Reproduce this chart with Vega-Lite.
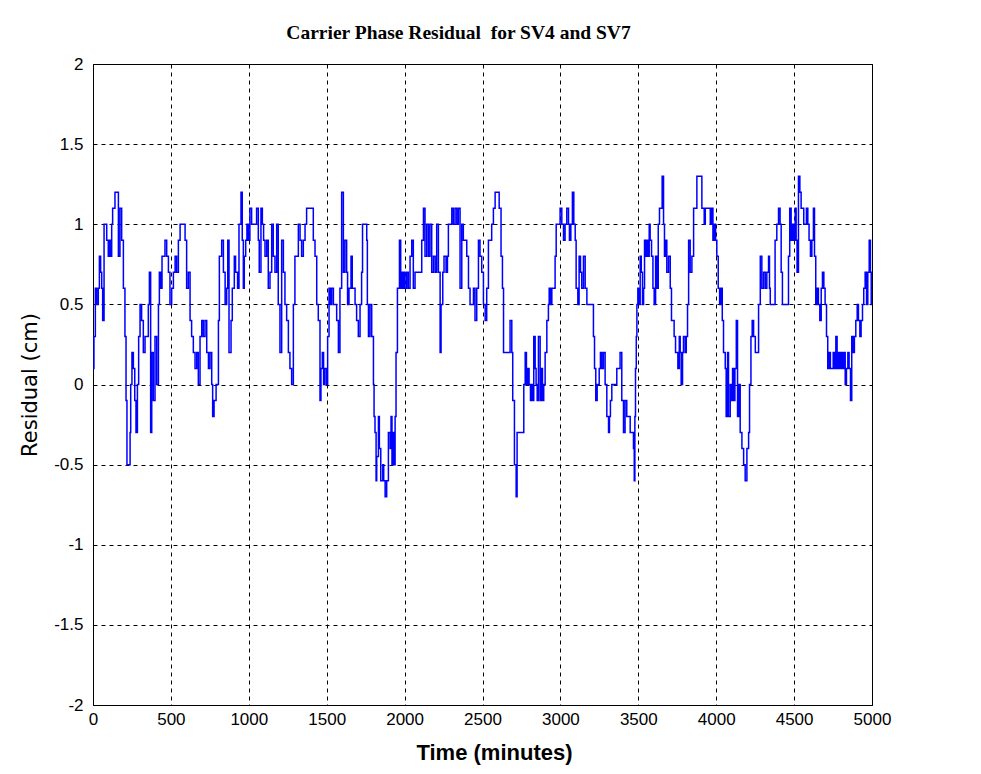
{
  "$schema": "https://vega.github.io/schema/vega-lite/v6.json",
  "width": 779,
  "height": 641,
  "autosize": {"type": "none"},
  "padding": {"left": 93, "top": 64, "right": 109, "bottom": 69},
  "background": "white",
  "title": {
    "text": "Carrier Phase Residual\u00a0 for SV4 and SV7",
    "font": "Liberation Serif",
    "fontSize": 19.5,
    "fontWeight": "bold",
    "color": "black",
    "anchor": "middle",
    "dx": -24,
    "offset": 12
  },
  "config": {
    "view": {"stroke": "black", "strokeWidth": 1},
    "axis": {
      "grid": true,
      "gridColor": "black",
      "gridDash": [4, 4],
      "gridOpacity": 1,
      "gridWidth": 1,
      "domain": false,
      "ticks": false,
      "labelFlush": false,
      "labelFont": "Liberation Sans",
      "labelFontSize": 17,
      "labelColor": "black",
      "titleFont": "Liberation Sans",
      "titleColor": "black"
    }
  },
  "data": {"values": [
    {"t":0,"r":0.1},{"t":6,"r":0.3},{"t":15,"r":0.6},{"t":24,"r":0.5},{"t":34,"r":0.6},{"t":41,"r":0.8},{"t":49,"r":0.7},{"t":56,"r":0.6},{"t":62,"r":0.4},{"t":71,"r":1.0},{"t":88,"r":0.9},{"t":98,"r":0.8},{"t":105,"r":0.9},{"t":113,"r":0.8},{"t":120,"r":1.0},{"t":126,"r":1.1},{"t":141,"r":1.2},{"t":163,"r":0.8},{"t":173,"r":1.1},{"t":184,"r":0.9},{"t":195,"r":0.6},{"t":205,"r":0.3},{"t":212,"r":-0.1},{"t":218,"r":-0.5},{"t":238,"r":-0.3},{"t":242,"r":0.0},{"t":250,"r":0.2},{"t":259,"r":0.1},{"t":268,"r":-0.1},{"t":276,"r":-0.3},{"t":285,"r":0.0},{"t":293,"r":0.3},{"t":302,"r":0.5},{"t":312,"r":0.4},{"t":323,"r":0.2},{"t":334,"r":0.3},{"t":355,"r":0.5},{"t":362,"r":0.7},{"t":370,"r":-0.3},{"t":377,"r":0.2},{"t":387,"r":-0.1},{"t":398,"r":0.3},{"t":409,"r":0.0},{"t":420,"r":0.5},{"t":426,"r":0.7},{"t":434,"r":0.6},{"t":443,"r":0.8},{"t":462,"r":0.9},{"t":473,"r":0.8},{"t":484,"r":0.7},{"t":494,"r":0.5},{"t":505,"r":0.6},{"t":516,"r":0.7},{"t":527,"r":0.8},{"t":537,"r":0.7},{"t":548,"r":0.9},{"t":559,"r":1.0},{"t":591,"r":0.9},{"t":601,"r":0.6},{"t":612,"r":0.7},{"t":623,"r":0.4},{"t":633,"r":0.3},{"t":644,"r":0.2},{"t":655,"r":0.1},{"t":666,"r":0.2},{"t":676,"r":0.0},{"t":687,"r":0.3},{"t":698,"r":0.4},{"t":708,"r":0.3},{"t":719,"r":0.4},{"t":730,"r":0.2},{"t":741,"r":0.1},{"t":751,"r":0.2},{"t":762,"r":0.0},{"t":768,"r":-0.2},{"t":777,"r":-0.1},{"t":790,"r":0.0},{"t":805,"r":0.4},{"t":811,"r":0.8},{"t":826,"r":0.9},{"t":837,"r":0.7},{"t":848,"r":0.5},{"t":858,"r":0.6},{"t":865,"r":0.9},
    {"t":873,"r":0.2},{"t":886,"r":0.4},{"t":894,"r":0.6},{"t":907,"r":0.8},{"t":915,"r":0.7},{"t":928,"r":0.6},{"t":937,"r":1.0},{"t":950,"r":1.2},{"t":958,"r":0.9},{"t":965,"r":0.6},{"t":971,"r":0.8},{"t":980,"r":0.9},{"t":988,"r":1.0},{"t":997,"r":0.9},{"t":1007,"r":1.1},{"t":1018,"r":1.0},{"t":1050,"r":1.1},{"t":1061,"r":0.9},{"t":1067,"r":0.7},{"t":1078,"r":1.1},{"t":1087,"r":1.0},{"t":1095,"r":0.9},{"t":1104,"r":0.8},{"t":1115,"r":0.9},{"t":1125,"r":0.6},{"t":1136,"r":0.7},{"t":1147,"r":1.0},{"t":1157,"r":0.8},{"t":1168,"r":0.7},{"t":1179,"r":1.0},{"t":1189,"r":0.5},{"t":1200,"r":0.2},{"t":1211,"r":0.9},{"t":1222,"r":0.7},{"t":1232,"r":0.5},{"t":1243,"r":0.4},{"t":1254,"r":0.2},{"t":1264,"r":0.1},{"t":1275,"r":0.0},{"t":1286,"r":0.5},{"t":1296,"r":0.8},{"t":1318,"r":1.0},{"t":1329,"r":0.9},{"t":1339,"r":0.8},{"t":1350,"r":0.9},{"t":1361,"r":1.0},{"t":1371,"r":1.1},{"t":1414,"r":0.9},{"t":1425,"r":0.8},{"t":1436,"r":0.5},{"t":1446,"r":0.4},{"t":1457,"r":-0.1},{"t":1463,"r":0.1},{"t":1472,"r":0.2},{"t":1480,"r":0.0},{"t":1489,"r":0.1},{"t":1500,"r":0.0},{"t":1506,"r":0.3},{"t":1515,"r":0.6},{"t":1523,"r":0.5},{"t":1532,"r":0.6},{"t":1543,"r":0.5},{"t":1564,"r":0.4},{"t":1575,"r":0.2},{"t":1585,"r":0.6},{"t":1596,"r":1.2},{"t":1607,"r":0.7},{"t":1617,"r":0.9},{"t":1628,"r":0.7},{"t":1634,"r":0.5},{"t":1643,"r":0.6},{"t":1656,"r":0.8},{"t":1664,"r":0.6},{"t":1682,"r":0.5},{"t":1692,"r":0.4},{"t":1703,"r":0.3},{"t":1714,"r":0.5},{"t":1724,"r":0.7},{"t":1730,"r":1.0},
    {"t":1757,"r":0.9},{"t":1761,"r":0.5},{"t":1768,"r":0.3},{"t":1778,"r":0.5},{"t":1789,"r":0.3},{"t":1800,"r":0.0},{"t":1804,"r":-0.2},{"t":1810,"r":-0.3},{"t":1817,"r":-0.6},{"t":1821,"r":-0.45},{"t":1832,"r":-0.2},{"t":1838,"r":-0.4},{"t":1847,"r":-0.6},{"t":1860,"r":-0.5},{"t":1866,"r":-0.6},{"t":1875,"r":-0.7},{"t":1885,"r":-0.6},{"t":1896,"r":-0.3},{"t":1907,"r":-0.4},{"t":1913,"r":-0.2},{"t":1919,"r":-0.5},{"t":1928,"r":-0.3},{"t":1932,"r":-0.5},{"t":1939,"r":-0.2},{"t":1945,"r":0.2},{"t":1954,"r":0.6},{"t":1967,"r":0.9},{"t":1975,"r":0.6},{"t":1982,"r":0.7},{"t":1988,"r":0.6},{"t":1996,"r":0.7},{"t":2003,"r":0.6},{"t":2014,"r":0.7},{"t":2024,"r":0.6},{"t":2035,"r":0.8},{"t":2046,"r":0.9},{"t":2056,"r":0.6},{"t":2067,"r":0.7},{"t":2110,"r":0.9},{"t":2121,"r":1.1},{"t":2131,"r":0.8},{"t":2142,"r":1.0},{"t":2153,"r":0.8},{"t":2163,"r":1.0},{"t":2174,"r":0.7},{"t":2185,"r":0.8},{"t":2196,"r":0.7},{"t":2206,"r":1.0},{"t":2217,"r":0.7},{"t":2228,"r":0.2},{"t":2234,"r":0.5},{"t":2245,"r":0.7},{"t":2253,"r":0.8},{"t":2266,"r":0.7},{"t":2275,"r":0.8},{"t":2281,"r":1.0},{"t":2303,"r":1.1},{"t":2313,"r":1.0},{"t":2324,"r":1.1},{"t":2335,"r":1.0},{"t":2345,"r":1.1},{"t":2356,"r":0.6},{"t":2367,"r":1.0},{"t":2377,"r":0.9},{"t":2399,"r":0.8},{"t":2410,"r":0.6},{"t":2420,"r":0.5},{"t":2442,"r":0.6},{"t":2452,"r":0.4},{"t":2463,"r":0.6},{"t":2474,"r":0.9},{"t":2484,"r":0.8},{"t":2495,"r":0.7},{"t":2506,"r":0.5},{"t":2517,"r":0.4},{"t":2527,"r":0.6},{"t":2538,"r":0.9},{"t":2559,"r":1.0},{"t":2570,"r":1.1},{"t":2581,"r":1.2},
    {"t":2607,"r":1.1},{"t":2619,"r":0.8},{"t":2628,"r":0.6},{"t":2635,"r":0.2},{"t":2677,"r":0.4},{"t":2688,"r":0.2},{"t":2694,"r":-0.1},{"t":2705,"r":-0.5},{"t":2716,"r":-0.7},{"t":2722,"r":-0.3},{"t":2765,"r":0.0},{"t":2774,"r":0.2},{"t":2782,"r":0.0},{"t":2791,"r":0.1},{"t":2799,"r":0.0},{"t":2808,"r":-0.1},{"t":2816,"r":0.0},{"t":2821,"r":-0.1},{"t":2829,"r":0.3},{"t":2838,"r":0.1},{"t":2844,"r":0.0},{"t":2851,"r":-0.1},{"t":2859,"r":0.3},{"t":2870,"r":-0.1},{"t":2876,"r":0.1},{"t":2885,"r":-0.1},{"t":2893,"r":0.0},{"t":2902,"r":0.2},{"t":2913,"r":0.4},{"t":2923,"r":0.5},{"t":2928,"r":0.6},{"t":2936,"r":0.5},{"t":2945,"r":0.6},{"t":2966,"r":0.8},{"t":2973,"r":1.0},{"t":2998,"r":1.1},{"t":3009,"r":1.0},{"t":3020,"r":0.9},{"t":3030,"r":1.0},{"t":3041,"r":1.1},{"t":3052,"r":1.0},{"t":3058,"r":0.9},{"t":3067,"r":1.0},{"t":3077,"r":1.2},{"t":3086,"r":1.0},{"t":3095,"r":0.9},{"t":3101,"r":0.6},{"t":3112,"r":0.5},{"t":3120,"r":0.8},{"t":3129,"r":0.7},{"t":3137,"r":0.6},{"t":3148,"r":0.8},{"t":3159,"r":0.6},{"t":3170,"r":0.5},{"t":3212,"r":0.3},{"t":3219,"r":0.1},{"t":3227,"r":-0.1},{"t":3236,"r":0.0},{"t":3249,"r":0.1},{"t":3257,"r":0.2},{"t":3266,"r":0.1},{"t":3276,"r":0.2},{"t":3287,"r":0.0},{"t":3298,"r":-0.2},{"t":3309,"r":-0.3},{"t":3315,"r":-0.2},{"t":3321,"r":-0.1},{"t":3330,"r":0.0},{"t":3362,"r":0.1},{"t":3383,"r":0.2},{"t":3394,"r":-0.1},{"t":3405,"r":-0.3},{"t":3415,"r":-0.1},{"t":3426,"r":-0.2},{"t":3448,"r":-0.3},{"t":3469,"r":-0.4},{"t":3474,"r":-0.6},{"t":3478,"r":-0.2},{"t":3482,"r":0.1},
    {"t":3487,"r":0.3},{"t":3491,"r":0.5},{"t":3497,"r":0.6},{"t":3506,"r":0.5},{"t":3512,"r":0.8},{"t":3519,"r":0.7},{"t":3527,"r":0.5},{"t":3534,"r":0.6},{"t":3540,"r":0.9},{"t":3549,"r":0.8},{"t":3555,"r":0.9},{"t":3561,"r":0.8},{"t":3570,"r":1.0},{"t":3576,"r":0.9},{"t":3585,"r":0.8},{"t":3594,"r":0.6},{"t":3602,"r":0.5},{"t":3611,"r":0.8},{"t":3619,"r":0.6},{"t":3628,"r":1.0},{"t":3636,"r":1.1},{"t":3653,"r":1.3},{"t":3662,"r":1.0},{"t":3668,"r":0.8},{"t":3675,"r":0.9},{"t":3683,"r":0.7},{"t":3694,"r":0.8},{"t":3705,"r":0.6},{"t":3713,"r":0.4},{"t":3730,"r":0.3},{"t":3739,"r":0.2},{"t":3754,"r":0.1},{"t":3763,"r":0.3},{"t":3769,"r":0.2},{"t":3775,"r":0.0},{"t":3784,"r":0.2},{"t":3790,"r":0.3},{"t":3801,"r":0.2},{"t":3808,"r":0.3},{"t":3816,"r":0.5},{"t":3823,"r":0.9},{"t":3833,"r":0.7},{"t":3844,"r":0.8},{"t":3855,"r":1.1},{"t":3876,"r":1.3},{"t":3908,"r":1.1},{"t":3923,"r":1.0},{"t":3930,"r":1.1},{"t":3962,"r":1.0},{"t":3970,"r":1.1},{"t":3979,"r":0.9},{"t":3987,"r":1.0},{"t":3996,"r":0.9},{"t":4004,"r":0.8},{"t":4013,"r":0.6},{"t":4022,"r":0.5},{"t":4030,"r":0.6},{"t":4039,"r":0.4},{"t":4047,"r":0.2},{"t":4058,"r":0.1},{"t":4064,"r":-0.2},{"t":4073,"r":0.2},{"t":4079,"r":-0.2},{"t":4090,"r":0.0},{"t":4096,"r":-0.1},{"t":4105,"r":0.1},{"t":4111,"r":-0.1},{"t":4120,"r":0.1},{"t":4129,"r":0.4},{"t":4137,"r":-0.2},{"t":4146,"r":0.0},{"t":4154,"r":-0.3},{"t":4165,"r":-0.4},{"t":4176,"r":-0.5},{"t":4186,"r":-0.6},{"t":4197,"r":-0.4},{"t":4208,"r":-0.3},{"t":4214,"r":0.0},{"t":4223,"r":0.3},{"t":4231,"r":0.4},{"t":4240,"r":0.3},{"t":4251,"r":0.2},{"t":4272,"r":0.5},{"t":4283,"r":0.8},{"t":4293,"r":0.6},{"t":4304,"r":0.7},{"t":4315,"r":0.6},{"t":4325,"r":0.7},{"t":4336,"r":0.8},{"t":4342,"r":0.6},{"t":4347,"r":0.5},
    {"t":4378,"r":0.9},{"t":4389,"r":1.0},{"t":4400,"r":1.1},{"t":4410,"r":1.0},{"t":4417,"r":0.7},{"t":4425,"r":0.5},{"t":4464,"r":0.8},{"t":4472,"r":1.1},{"t":4481,"r":0.9},{"t":4489,"r":1.0},{"t":4498,"r":0.9},{"t":4507,"r":1.1},{"t":4513,"r":0.9},{"t":4519,"r":0.7},{"t":4528,"r":1.3},{"t":4537,"r":1.2},{"t":4545,"r":1.1},{"t":4562,"r":1.0},{"t":4579,"r":1.1},{"t":4588,"r":1.0},{"t":4596,"r":0.9},{"t":4605,"r":0.8},{"t":4614,"r":0.9},{"t":4624,"r":1.1},{"t":4631,"r":0.8},{"t":4639,"r":0.5},{"t":4648,"r":0.6},{"t":4656,"r":0.5},{"t":4665,"r":0.4},{"t":4674,"r":0.6},{"t":4682,"r":0.7},{"t":4691,"r":0.6},{"t":4699,"r":0.5},{"t":4708,"r":0.3},{"t":4716,"r":0.1},{"t":4725,"r":0.2},{"t":4733,"r":0.1},{"t":4751,"r":0.2},{"t":4759,"r":0.1},{"t":4768,"r":0.3},{"t":4776,"r":0.1},{"t":4785,"r":0.2},{"t":4793,"r":0.1},{"t":4802,"r":0.2},{"t":4810,"r":0.1},{"t":4819,"r":0.2},{"t":4828,"r":0.0},{"t":4836,"r":0.1},{"t":4845,"r":0.2},{"t":4853,"r":0.1},{"t":4862,"r":-0.1},{"t":4870,"r":0.3},{"t":4879,"r":0.2},{"t":4887,"r":0.3},{"t":4896,"r":0.4},{"t":4905,"r":0.5},{"t":4913,"r":0.4},{"t":4922,"r":0.3},{"t":4930,"r":0.4},{"t":4939,"r":0.5},{"t":4947,"r":0.6},{"t":4956,"r":0.7},{"t":4965,"r":0.5},{"t":4973,"r":0.7},{"t":4982,"r":0.9},{"t":4990,"r":0.7},{"t":4995,"r":0.5},{"t":5000,"r":0.5}
  ]},
  "mark": {"type": "line", "color": "#0000ff", "strokeWidth": 1.5, "interpolate": "step-after", "clip": true},
  "encoding": {
    "x": {
      "field": "t",
      "type": "quantitative",
      "scale": {"domain": [0, 5000], "nice": false, "zero": false},
      "axis": {
        "values": [0, 500, 1000, 1500, 2000, 2500, 3000, 3500, 4000, 4500, 5000],
        "labelExpr": "datum.value + ''",
        "labelPadding": 6,
        "title": "Time (minutes)",
        "titleFontSize": 22,
        "titleFontWeight": "bold",
        "titlePadding": 15,
        "titleX": 401
      }
    },
    "y": {
      "field": "r",
      "type": "quantitative",
      "scale": {"domain": [-2, 2], "nice": false, "zero": false},
      "axis": {
        "values": [-2, -1.5, -1, -0.5, 0, 0.5, 1, 1.5, 2],
        "labelExpr": "datum.value + ''",
        "labelPadding": 10,
        "title": "Residual (cm)",
        "titleFont": "DejaVu Sans",
        "titleFontSize": 21,
        "titleFontWeight": "normal",
        "titlePadding": 13
      }
    }
  }
}
